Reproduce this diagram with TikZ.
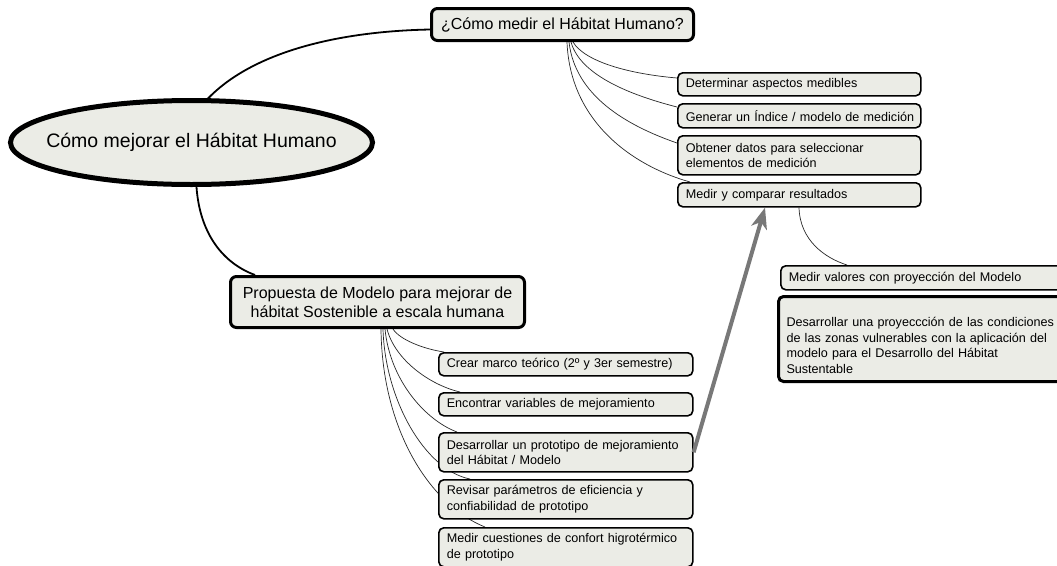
\documentclass[tikz,border=0pt]{standalone}
\usepackage{fontspec}
\setmainfont{Liberation Sans}
\usetikzlibrary{shapes.geometric,arrows.meta,calc,backgrounds}
\definecolor{boxfill}{RGB}{235,236,230}
\definecolor{arrowgray}{RGB}{120,120,120}
\definecolor{linkgray}{RGB}{40,40,40}
\tikzset{
  sub/.style={draw=black, fill=boxfill, rounded corners=5pt, line width=1.6pt,
    font=\fontsize{12.6}{15.5}\selectfont, align=left, anchor=north west,
    inner xsep=8pt, inner ysep=2pt},
  big/.style={draw=black, fill=boxfill, rounded corners=6pt, line width=3pt,
    font=\fontsize{16}{19}\selectfont, align=center, anchor=north west, inner sep=2pt},
  mainlink/.style={draw=black, line width=1.8pt},
  sublink/.style={draw=linkgray, line width=0.7pt},
  bigarrow/.style={draw=arrowgray, line width=4pt, -{Stealth[length=21pt,width=16pt,inset=6pt]}}
}
\begin{document}
\begin{tikzpicture}[x=1pt,y=-1pt]
\path[use as bounding box] (0,0) rectangle (1057,565);
\clip (0,0) rectangle (1057,565);

% central idea
\node[ellipse, draw=black, fill=boxfill, line width=5pt, minimum width=362pt, minimum height=84pt,
  inner sep=0pt, font=\fontsize{19.5}{22}\selectfont] (e) at (191.5,142.5)
  {\makebox[0pt]{Cómo mejorar el Hábitat Humano}};

% main branches
\node[big, minimum width=262pt, minimum height=32pt] (q) at (430,7) {¿Cómo medir el Hábitat Humano?};
\node[big, minimum width=294pt, minimum height=51pt] (prop) at (229,275)
  {Propuesta de Modelo para mejorar de\\hábitat Sostenible a escala humana};

% children of q
\node[sub, text width=227pt, minimum height=23pt] (d1) at (677,72) {Determinar aspectos medibles};
\node[sub, text width=227pt, minimum height=24pt] (d2) at (677,103) {\mbox{Generar un Índice / modelo de medición}};
\node[sub, text width=227pt, minimum height=39pt] (d3) at (677,135) {Obtener datos para seleccionar\\elementos de medición};
\node[sub, text width=227pt, minimum height=24pt] (d4) at (677,182) {Medir y comparar resultados};

% children of d4 and floating box
\node[sub, text width=284pt, minimum height=24pt] (r1) at (780,265) {Medir valores con proyección del Modelo};
\node[sub, line width=3pt, text width=284pt, minimum height=85pt] (r2) at (777,295)
  {\rule{0pt}{22pt}Desarrollar una proyeccción de las condiciones\\de las zonas vulnerables con la aplicación del\\modelo para el Desarrollo del Hábitat\\Sustentable};

% children of prop
\node[sub, text width=238pt, minimum height=23pt] (p1) at (438,352) {Crear marco teórico (2º y 3er semestre)};
\node[sub, text width=238pt, minimum height=23pt] (p2) at (438,392) {Encontrar variables de mejoramiento};
\node[sub, text width=238pt, minimum height=39pt] (p3) at (438,432) {Desarrollar un prototipo de mejoramiento\\del Hábitat / Modelo};
\node[sub, text width=238pt, minimum height=39pt] (p4) at (438,479) {Revisar parámetros de eficiencia y\\confiabilidad de prototipo};
\node[sub, text width=238pt, minimum height=39pt] (p5) at (438,527) {Medir cuestiones de confort higrotérmico\\de prototipo};

\begin{scope}[on background layer]
  \fill[white] (0,0) rectangle (1057,565);
  % main links
  \draw[mainlink] ($(e.north)+(16,1)$) .. controls +(42,-44) and +(-100,2) .. ($(q.west)+(0,5)$);
  \draw[mainlink] ($(e.south)+(5,0)$) .. controls +(3,43) and +(-35,-13) .. ($(prop.north west)+(26,0)$);
  % links from q
  \draw[sublink] ($(q.south west)+(143,0)$) .. controls +(12,20) and +(-47,-4) .. ($(d1.north west)+(0,6)$);
  \draw[sublink] ($(q.south west)+(141,0)$) .. controls +(9,33) and +(-47,-12) .. ($(d2.north west)+(0,4)$);
  \draw[sublink] ($(q.south west)+(139,0)$) .. controls +(6,53) and +(-52,-18) .. ($(d3.north west)+(0,8)$);
  \draw[sublink] ($(q.south west)+(137,0)$) .. controls +(3,78) and +(-60,-17) .. ($(d4.north west)+(13,0)$);
  % link from d4
  \draw[sublink] ($(d4.south west)+(122,0)$) .. controls +(1,33) and +(-22,-7) .. ($(r1.north west)+(67,0)$);
  % links from prop
  \draw[sublink] ($(prop.south west)+(164,0)$) .. controls +(7,11) and +(-20,-3) .. ($(p1.north west)+(6,0)$);
  \draw[sublink] ($(prop.south west)+(158,0)$) .. controls +(8,31) and +(-30,-7) .. ($(p2.north west)+(22,0)$);
  \draw[sublink] ($(prop.south west)+(156,0)$) .. controls +(5,51) and +(-32,-12) .. ($(p3.north west)+(19,0)$);
  \draw[sublink] ($(prop.south west)+(154,0)$) .. controls +(2,71) and +(-45,-9) .. ($(p4.north west)+(32,0)$);
  \draw[sublink] ($(prop.south west)+(152,0)$) .. controls +(1,101) and +(-55,-22) .. ($(p5.north west)+(47,0)$);
\end{scope}

% gray arrow
\draw[bigarrow] (p3.east) -- ($(d4.south west)+(88,0)$);
\end{tikzpicture}
\end{document}
